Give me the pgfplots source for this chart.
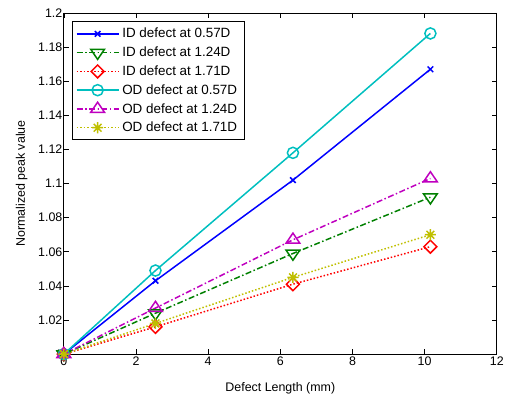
\documentclass[border=0pt]{standalone}
\usepackage{pgfplots}
\pgfplotsset{compat=1.18}
\usepackage{fontspec}
\setmainfont{Liberation Sans}
\definecolor{mgreen}{rgb}{0,0.5,0}
\definecolor{mcyan}{rgb}{0,0.75,0.75}
\definecolor{mmag}{rgb}{0.75,0,0.75}
\definecolor{myel}{rgb}{0.75,0.75,0}
\pgfdeclareplotmark{mstar}{%
  \pgfpathmoveto{\pgfqpoint{-\pgfplotmarksize}{0pt}}\pgfpathlineto{\pgfqpoint{\pgfplotmarksize}{0pt}}%
  \pgfpathmoveto{\pgfqpoint{0pt}{-\pgfplotmarksize}}\pgfpathlineto{\pgfqpoint{0pt}{\pgfplotmarksize}}%
  \pgfpathmoveto{\pgfqpoint{-.7\pgfplotmarksize}{-.7\pgfplotmarksize}}\pgfpathlineto{\pgfqpoint{.7\pgfplotmarksize}{.7\pgfplotmarksize}}%
  \pgfpathmoveto{\pgfqpoint{-.7\pgfplotmarksize}{.7\pgfplotmarksize}}\pgfpathlineto{\pgfqpoint{.7\pgfplotmarksize}{-.7\pgfplotmarksize}}%
  \pgfusepathqstroke}
\tikzset{
  mdot/.style={dash pattern=on 1.5pt off 2pt},
  mdashdot/.style={dash pattern=on 6pt off 2.5pt on 1.5pt off 2.5pt},
}
\begin{document}
\begin{tikzpicture}
\begin{axis}[
  scale only axis,
  width=434bp, height=342bp,
  xmin=0, xmax=12, ymin=1, ymax=1.2,
  xtick={0,2,...,12},
  ytick={1,1.02,...,1.2},
  scaled y ticks=false,
  yticklabel style={/pgf/number format/fixed,/pgf/number format/precision=2, xshift=2bp},
  xticklabel style={yshift=1bp},
  /pgf/number format/assume math mode=true,
  tick align=inside,
  major tick length=5bp,
  tick style={black, line width=0.6pt},
  axis line style={line width=0.8pt},
  ticklabel style={font=\fontsize{12.5}{14}\selectfont},
  label style={font=\fontsize{12.5}{14}\selectfont},
  xlabel={Defect Length (mm)},
  ylabel={Normalized peak value},
  xlabel style={yshift=-10bp},
  ylabel style={yshift=4bp},
  legend style={font=\fontsize{13.5}{15}\selectfont, draw=black, line width=0.6pt, inner xsep=4bp, inner ysep=4.5bp, row sep=3.6pt, at={(0.018,0.975)}, anchor=north west,
    nodes={inner xsep=3bp}},
  legend cell align=left,
  legend image code/.code={
    \draw[mark repeat=2,mark phase=2,#1] plot coordinates {(0bp,0bp) (21bp,0bp) (42bp,0bp)};
  },
  every axis plot/.append style={line width=1.5pt},
]
\addplot[blue, solid, mark=x, mark size=4pt, mark options={solid}] coordinates {(0,1) (2.54,1.043) (6.35,1.102) (10.16,1.167)};
\addlegendentry{ID defect at 0.57D}
\addplot[mgreen, mdashdot, mark=triangle, mark size=8pt, mark options={solid, rotate=180, yscale=0.85}] coordinates {(0,1) (2.54,1.024) (6.35,1.059) (10.16,1.092)};
\addlegendentry{ID defect at 1.24D}
\addplot[red, mdot, mark=square, mark size=4.6pt, mark options={solid, rotate=45}] coordinates {(0,1) (2.54,1.016) (6.35,1.041) (10.16,1.063)};
\addlegendentry{ID defect at 1.71D}
\addplot[mcyan, solid, mark=o, mark size=5.6pt, mark options={solid}] coordinates {(0,1) (2.54,1.049) (6.35,1.118) (10.16,1.188)};
\addlegendentry{OD defect at 0.57D}
\addplot[mmag, mdashdot, mark=triangle, mark size=8pt, mark options={solid, yscale=0.85}] coordinates {(0,1) (2.54,1.027) (6.35,1.067) (10.16,1.103)};
\addlegendentry{OD defect at 1.24D}
\addplot[myel, mdot, mark=mstar, mark size=5.6pt, mark options={solid}] coordinates {(0,1) (2.54,1.018) (6.35,1.045) (10.16,1.070)};
\addlegendentry{OD defect at 1.71D}
\end{axis}
\path[use as bounding box] (0,0) ++(-64bp,-37bp) rectangle ++(507bp,392bp);
\end{tikzpicture}
\end{document}
